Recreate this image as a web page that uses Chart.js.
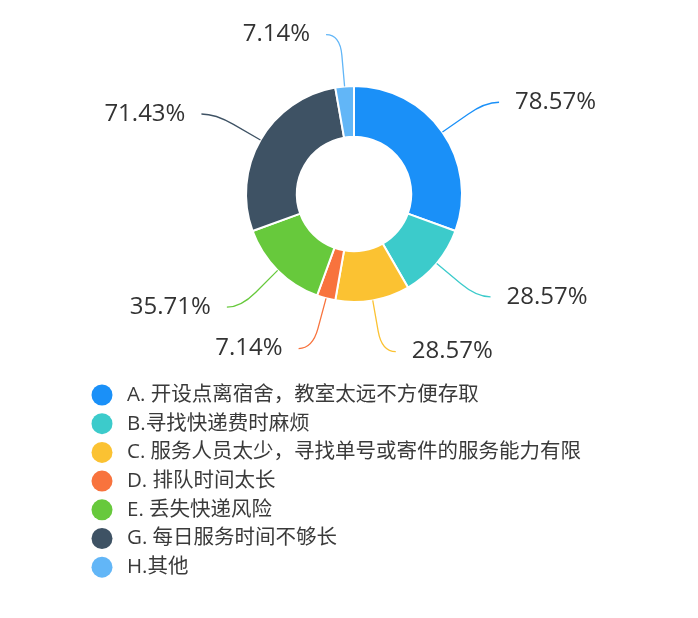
<!DOCTYPE html>
<html lang="zh-CN">
<head>
<meta charset="utf-8">
<title>快递服务问题分布</title>
<script src="https://cdn.jsdelivr.net/npm/chart.js@4.4.1/dist/chart.umd.min.js"></script>
<style>
  html, body { margin: 0; padding: 0; background: #fff; }
  #wrap { width: 698px; height: 618px; position: relative; }
</style>
</head>
<body>
<div id="wrap"><canvas id="chart-problems"></canvas></div>
<script>
// 各选项及其选择比例（%）
const CATEGORIES = [
  'A. 开设点离宿舍，教室太远不方便存取',
  'B.寻找快递费时麻烦',
  'C. 服务人员太少，寻找单号或寄件的服务能力有限',
  'D. 排队时间太长',
  'E. 丢失快递风险',
  'G. 每日服务时间不够长',
  'H.其他'
];
const PERCENTS = [78.57, 28.57, 28.57, 7.14, 35.71, 71.43, 7.14];
const COLORS = ['#1a90f8', '#3ccbcb', '#fbc232', '#f8733d', '#67c93c', '#3e5264', '#62b6f7'];

const FONT = '"Open Sans", "Noto Sans CJK SC", sans-serif';

// 引导线 + 百分比标签
const outsideLabels = {
  id: 'outsideLabels',
  afterDatasetsDraw(chart) {
    const { ctx } = chart;
    const meta = chart.getDatasetMeta(0);
    ctx.save();
    ctx.font = '24px ' + FONT;
    ctx.textBaseline = 'middle';
    meta.data.forEach((arc, i) => {
      const { x, y, startAngle, endAngle, outerRadius } =
        arc.getProps(['x', 'y', 'startAngle', 'endAngle', 'outerRadius'], true);
      const mid = (startAngle + endAngle) / 2;
      const cos = Math.cos(mid), sin = Math.sin(mid);
      const dir = cos >= 0 ? 1 : -1;
      const p1 = { x: x + cos * outerRadius, y: y + sin * outerRadius };
      const r2 = outerRadius + 52;
      const p2 = { x: x + cos * r2, y: y + sin * r2 };
      const p3 = { x: p2.x + dir * 14, y: p2.y };
      const pm = { x: p1.x + (p2.x - p1.x) * 0.6, y: p1.y + (p2.y - p1.y) * 0.6 };

      ctx.beginPath();
      ctx.moveTo(p1.x, p1.y);
      ctx.lineTo(pm.x, pm.y);
      ctx.quadraticCurveTo(p2.x, p2.y, p3.x, p3.y);
      ctx.strokeStyle = COLORS[i];
      ctx.lineWidth = 1.3;
      ctx.stroke();

      ctx.fillStyle = '#333';
      ctx.textAlign = dir > 0 ? 'left' : 'right';
      ctx.fillText(PERCENTS[i].toFixed(2) + '%', p3.x + dir * 16, p3.y);
    });
    ctx.restore();
  }
};

// 竖排图例（每项一行）
const listLegend = {
  id: 'listLegend',
  afterDraw(chart) {
    const { ctx } = chart;
    const left = 102, top = 395, row = 28.7;
    ctx.save();
    ctx.font = '20.5px ' + FONT;
    ctx.textBaseline = 'middle';
    ctx.textAlign = 'left';
    chart.data.labels.forEach((label, i) => {
      const cy = top + i * row;
      ctx.beginPath();
      ctx.arc(left, cy, 10.5, 0, Math.PI * 2);
      ctx.fillStyle = chart.data.datasets[0].backgroundColor[i];
      ctx.fill();
      ctx.fillStyle = '#3a3a3a';
      ctx.fillText(label, left + 25, cy);
    });
    ctx.restore();
  }
};

new Chart(document.getElementById('chart-problems'), {
  type: 'doughnut',
  data: {
    labels: CATEGORIES,
    datasets: [{
      data: PERCENTS,
      backgroundColor: COLORS,
      borderColor: '#fff',
      borderWidth: 2,
      hoverOffset: 0
    }]
  },
  options: {
    responsive: true,
    maintainAspectRatio: false,
    animation: false,
    radius: 108,
    cutout: '53%',
    layout: { padding: { left: 10, right: 0, top: 0, bottom: 230 } },
    plugins: {
      legend: { display: false },
      tooltip: { enabled: false }
    }
  },
  plugins: [outsideLabels, listLegend]
});
</script>
</body>
</html>
